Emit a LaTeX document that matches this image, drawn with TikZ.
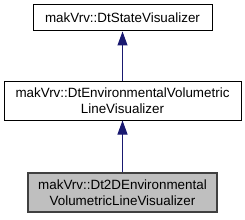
\documentclass[tikz,border=0pt]{standalone}
\usepackage{fontspec}
\setmainfont{Liberation Sans}
\usetikzlibrary{arrows.meta}
\definecolor{edgeblue}{HTML}{191970}
\definecolor{boxgray}{HTML}{BFBFBF}
\definecolor{boxborder}{HTML}{404040}
\begin{document}
\begin{tikzpicture}[x=1pt,y=-1pt,
  cls/.style={draw=black, line width=1pt, fill=white, inner sep=0pt, align=center,
    font=\fontsize{13.4pt}{15.5pt}\selectfont},
  cur/.style={cls, fill=boxgray, draw=boxborder, line width=1.4pt},
  inh/.style={draw=edgeblue, line width=1pt, -{Triangle[length=14pt,width=10pt]}}]
\useasboundingbox (0,0) rectangle (245,219);
\node[cls, minimum width=179pt, minimum height=26pt] (top) at (122.5,18) {makVrv::DtStateVisualizer};
\node[cls, minimum width=237pt, minimum height=39pt] (mid) at (122.5,100.5) {makVrv::DtEnvironmentalVolumetric\\LineVisualizer};
\node[cur, minimum width=189pt, minimum height=39pt] (bot) at (122.5,192.5) {makVrv::Dt2DEnvironmental\\VolumetricLineVisualizer};
\draw[inh] (mid.north) -- (top.south);
\draw[inh] (bot.north) -- (mid.south);
\end{tikzpicture}
\end{document}
